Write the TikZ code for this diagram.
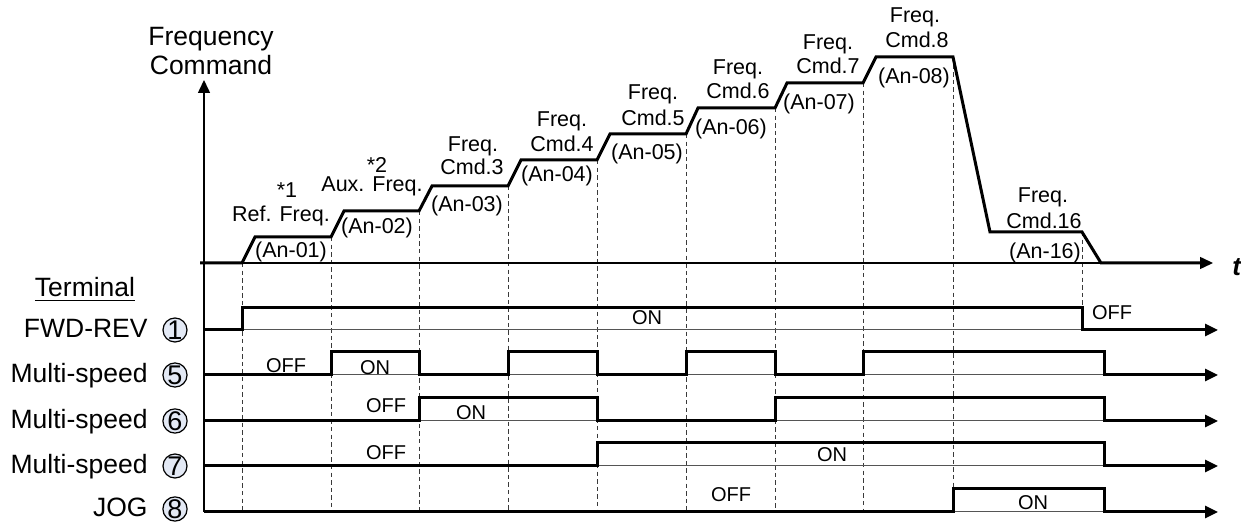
\documentclass[tikz,border=0pt]{standalone}
\usepackage{fontspec}
\setmainfont{Liberation Sans}
\usetikzlibrary{arrows.meta}
\definecolor{NumFill}{HTML}{E3E9F5}
\definecolor{Guide}{HTML}{3A3A3A}
\definecolor{Level}{HTML}{555555}

\begin{document}
\begin{tikzpicture}[x=0.5pt,y=-0.5pt,>={Triangle[length=6.5pt,width=6pt]}]
  \tikzset{
    wave/.style={line width=1.5pt, line join=miter},
    levelline/.style={line width=0.5pt, draw=Level},
    guide/.style={line width=0.5pt, dash pattern=on 2.2pt off 1.6pt, draw=Guide},
    axisline/.style={line width=0.75pt},
    bigtext/.style={font=\fontsize{13.25}{15}\selectfont, inner sep=0pt},
    cmdtext/.style={font=\fontsize{10.75}{12}\selectfont, inner sep=0pt, anchor=base},
    statetext/.style={font=\fontsize{10}{12}\selectfont, inner sep=0pt, anchor=base},
    termtext/.style={bigtext, anchor=base east},
    termnum/.style={circle, draw, line width=0.6pt, fill=NumFill, minimum size=12pt,
      inner sep=0pt, font=\fontsize{13.5}{14}\selectfont}
  }
  \useasboundingbox (0,0) rectangle (1241,522);

  % guide lines at each switching instant
  \draw[guide] (242,263) -- (242,512);
  \draw[guide] (331,237) -- (331,512);
  \draw[guide] (419,211) -- (419,512);
  \draw[guide] (508,186) -- (508,512);
  \draw[guide] (597,160) -- (597,512);
  \draw[guide] (686,134) -- (686,512);
  \draw[guide] (775,108) -- (775,512);
  \draw[guide] (863,83) -- (863,512);
  \draw[guide] (953,57) -- (953,489);
  \draw[guide] (1082,232) -- (1082,308);

  % axes
  \draw[axisline,->] (204,512) -- (204,80);
  \draw[axisline,->] (200,263) -- (1213,263);
  \node[inner sep=0pt, anchor=base west, font=\fontsize{13}{15}\selectfont\bfseries\itshape] (taxis) at (1232,276) {t};
  \node[bigtext, anchor=base] (freqhead) at (211,46) {Frequency};
  \node[bigtext, anchor=base] (cmdhead) at (211,75) {Command};

  % frequency profile
  \draw[wave] (200,263) -- (242,263) -- (255,237) -- (331,237) -- (344,211) -- (419,211)
    -- (432,186) -- (508,186) -- (521,160) -- (597,160) -- (610,134) -- (686,134)
    -- (698,108) -- (775,108) -- (787,83) -- (863,83) -- (876,57) -- (953,57)
    -- (990,232) -- (1082,232) -- (1101,263) -- (1201,263);

  % step labels
  \node[cmdtext] (star1) at (287,198) {*1};
  \node[cmdtext] (ref) at (281,222) {Ref. Freq.};
  \node[cmdtext] (an1) at (291,258) {(An-01)};
  \node[cmdtext] (aux) at (372,192) {Aux. Freq.};
  \node[cmdtext] (star2) at (377,173) {*2};
  \node[cmdtext] (an2) at (377,234) {(An-02)};
  \node[cmdtext] (fq3) at (473,152) {Freq.};
  \node[cmdtext] (cmd3) at (472,175) {Cmd.3};
  \node[cmdtext] (an3) at (467,212) {(An-03)};
  \node[cmdtext] (fq4) at (562,127) {Freq.};
  \node[cmdtext] (cmd4) at (562,152) {Cmd.4};
  \node[cmdtext] (an4) at (557,182) {(An-04)};
  \node[cmdtext] (fq5) at (653,100) {Freq.};
  \node[cmdtext] (cmd5) at (653,126) {Cmd.5};
  \node[cmdtext] (an5) at (647,160) {(An-05)};
  \node[cmdtext] (fq6) at (738,75) {Freq.};
  \node[cmdtext] (cmd6) at (738,99) {Cmd.6};
  \node[cmdtext] (an6) at (731,135) {(An-06)};
  \node[cmdtext] (fq7) at (828,50) {Freq.};
  \node[cmdtext] (cmd7) at (828,74) {Cmd.7};
  \node[cmdtext] (an7) at (819,110) {(An-07)};
  \node[cmdtext] (fq8) at (915,23) {Freq.};
  \node[cmdtext] (cmd8) at (917,48) {Cmd.8};
  \node[cmdtext] (an8) at (914,84) {(An-08)};
  \node[cmdtext] (fq16) at (1043,203) {Freq.};
  \node[cmdtext] (cmd16) at (1044,229) {Cmd.16};
  \node[cmdtext] (an16) at (1045,259) {(An-16)};

  % terminal names
  \node[bigtext, anchor=base] (term) at (85,297) {\underline{Terminal}};
  \node[termtext] (fwd) at (148,338) {FWD-REV};
  \node[termnum] (n1) at (175,330) {1};
  \node[termtext] (ms5) at (148,383) {Multi-speed};
  \node[termnum] (n5) at (175,375) {5};
  \node[termtext] (ms6) at (148,429) {Multi-speed};
  \node[termnum] (n6) at (175,421) {6};
  \node[termtext] (ms7) at (148,474) {Multi-speed};
  \node[termnum] (n7) at (175,466) {7};
  \node[termtext] (jog) at (148,517) {JOG};
  \node[termnum] (n8) at (175,509) {8};

  % terminal levels
  \draw[levelline] (204,330) -- (1210,330);
  \draw[levelline] (204,375) -- (1210,375);
  \draw[levelline] (204,421) -- (1210,421);
  \draw[levelline] (204,466) -- (1210,466);
  \draw[levelline] (204,512) -- (1210,512);

  % terminal signals
  \draw[wave,->] (204,330) -- (242,330) -- (242,308) -- (1082,308) -- (1082,330) -- (1218,330);
  \draw[wave,->] (204,375) -- (331,375) -- (331,352) -- (419,352) -- (419,375) -- (508,375)
    -- (508,352) -- (597,352) -- (597,375) -- (686,375) -- (686,352) -- (775,352)
    -- (775,375) -- (863,375) -- (863,352) -- (1104,352) -- (1104,375) -- (1218,375);
  \draw[wave,->] (204,421) -- (419,421) -- (419,398) -- (597,398) -- (597,421) -- (775,421)
    -- (775,398) -- (1104,398) -- (1104,421) -- (1218,421);
  \draw[wave,->] (204,466) -- (597,466) -- (597,443) -- (1104,443) -- (1104,466) -- (1218,466);
  \draw[wave,->] (204,512) -- (953,512) -- (953,489) -- (1104,489) -- (1104,512) -- (1218,512);

  % states
  \node[statetext] (fwdon) at (647,325) {ON};
  \node[statetext] (fwdoff) at (1112,320) {OFF};
  \node[statetext] (ms5off) at (286,373) {OFF};
  \node[statetext] (ms5on) at (375,375) {ON};
  \node[statetext] (ms6off) at (386,413) {OFF};
  \node[statetext] (ms6on) at (471,420) {ON};
  \node[statetext] (ms7off) at (386,460) {OFF};
  \node[statetext] (ms7on) at (832,462) {ON};
  \node[statetext] (jogoff) at (731,502) {OFF};
  \node[statetext] (jogon) at (1033,510) {ON};
\end{tikzpicture}
\end{document}
